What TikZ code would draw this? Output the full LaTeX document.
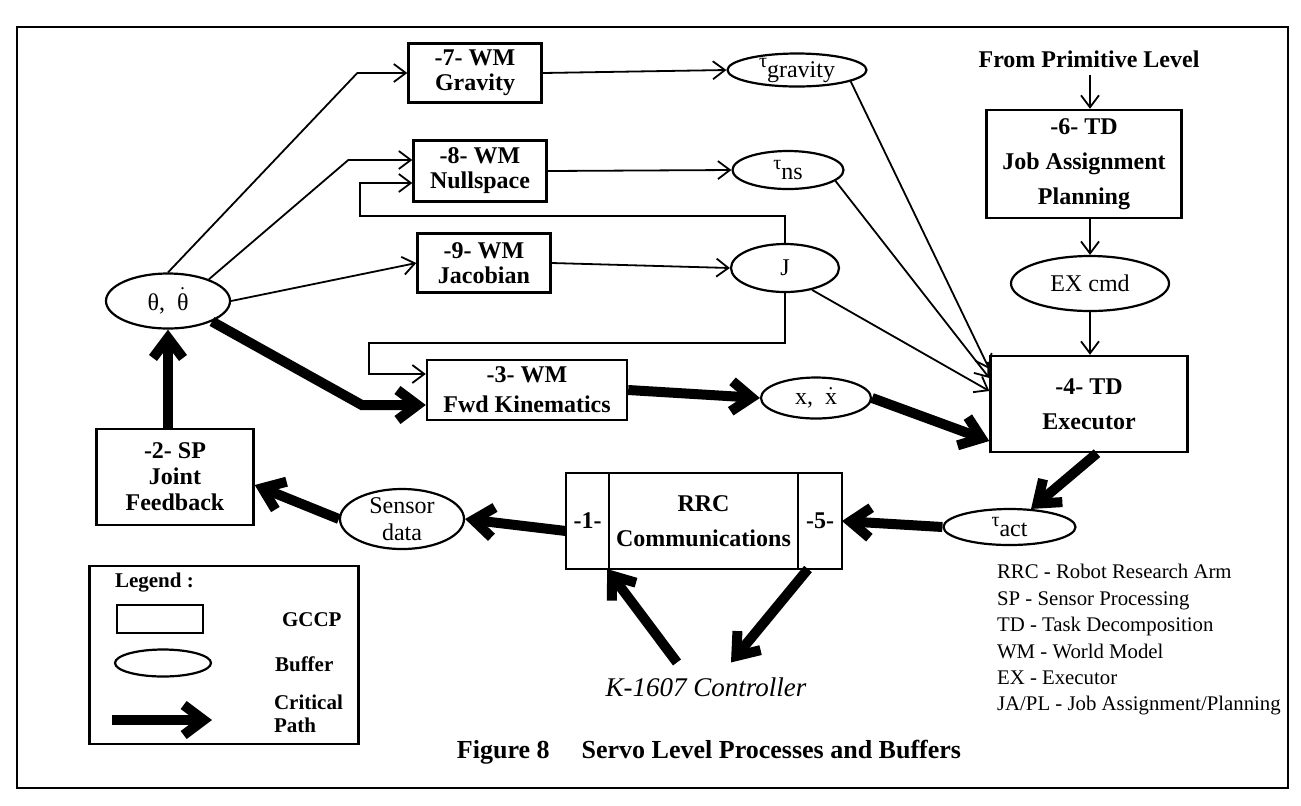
\documentclass[tikz,border=0pt]{standalone}
\usepackage{fontspec}
\setmainfont{Liberation Serif}
\usetikzlibrary{positioning, shapes.geometric, arrows.meta}
\newcommand{\tausub}[1]{\raisebox{2pt}{\fontsize{10}{10}\selectfont τ}\raisebox{-3pt}{#1}}

\begin{document}
\begin{tikzpicture}[x=0.5pt, y=-0.5pt,
    gccp/.style={draw, line width=1.2pt, align=center, inner sep=1pt,
        font={\fontsize{12}{#1}\selectfont\bfseries}},
    gccp/.default=12.5,
    buffer/.style={draw, ellipse, line width=1.1pt, inner sep=-4pt, align=center,
        font={\fontsize{12}{13.5}\selectfont}},
    legtext/.style={align=left, font={\fontsize{10.5}{11.5}\selectfont\bfseries}},
    flowarrow/.style={-{Straight Barb[length=6pt,width=9pt]}, line width=0.9pt},
    critarrow/.style={-{Straight Barb[length=10pt,width=15pt]}, line width=5pt}]
    \useasboundingbox (0,0) rectangle (1301,805);
    %cornice
        \draw[line width=1.2pt] (17,27) rectangle (1288,788);
    %riquadri GCCP
        \node[gccp, minimum width=66.5pt, minimum height=29.5pt] (g7) at (475,73) {-7- WM\\Gravity};
        \node[gccp, minimum width=66.5pt, minimum height=30.5pt] (g8) at (480,171) {-8- WM\\Nullspace};
        \node[gccp, minimum width=66.5pt, minimum height=29.5pt] (g9) at (484,263) {-9- WM\\Jacobian};
        \node[gccp=15, minimum width=100pt, minimum height=30pt] (g3) at (527,390) {-3- WM\\Fwd Kinematics};
        \node[gccp=13, minimum width=78.5pt, minimum height=48pt] (g2) at (175,477) {-2- SP\\Joint\\Feedback};
        \node[gccp=17.5, minimum width=97.5pt, minimum height=54pt] (g6) at (1084,164) {-6- TD\\Job Assignment\\Planning};
        \node[gccp=17.5, minimum width=98.5pt, minimum height=48pt] (g4) at (1089,404) {-4- TD\\Executor};
        \node[gccp=17.5, outer sep=0pt, minimum width=94.5pt, minimum height=48pt] (rrc) at (703.5,521) {RRC\\Communications};
        \node[gccp, outer sep=0pt, minimum width=21.5pt, minimum height=48pt, left=0pt of rrc] (c1) {-1-};
        \node[gccp, outer sep=0pt, minimum width=22pt, minimum height=48pt, right=0pt of rrc] (c5) {-5-};
    %buffer
        \node[buffer, minimum width=62pt, minimum height=27.5pt] (theta) at (168,301) {θ,\enspace$\dot{\mbox{θ}}$};
        \node[buffer, minimum width=69.5pt, minimum height=16.5pt] (tg) at (797,70) {\tausub{gravity}};
        \node[buffer, minimum width=55.5pt, minimum height=19pt] (tns) at (788,170) {\tausub{ns}};
        \node[buffer, minimum width=54pt, minimum height=24pt] (jac) at (785,268) {J};
        \node[buffer, minimum width=55pt, minimum height=20.5pt] (xd) at (816,398) {x,\enspace$\dot{\mbox{x}}$};
        \node[buffer, minimum width=79pt, minimum height=27.5pt] (excmd) at (1090,283.5) {EX cmd};
        \node[buffer, minimum width=66pt, minimum height=18pt] (tact) at (1009.5,527) {\tausub{act}};
        \node[buffer, minimum width=62pt, minimum height=30pt] (sens) at (402,519) {Sensor\\data};
    %testi
        \node[font={\fontsize{12}{14}\selectfont\bfseries}] (prim) at (1089,59) {From Primitive Level};
        \node[font={\fontsize{13.5}{16}\selectfont\itshape}] (ctrl) at (706,687) {K-1607 Controller};
        \node[anchor=west, align=left, font={\fontsize{10.4}{13.2}\selectfont}] (key) at (990,640)
            {RRC - Robot Research Arm\\SP - Sensor Processing\\TD - Task Decomposition\\WM - World Model\\EX - Executor\\JA/PL - Job Assignment/Planning};
        \node[font={\fontsize{13}{15}\selectfont\bfseries}] (cap) at (709,752) {Figure 8\hspace{16pt}Servo Level Processes and Buffers};
    %frecce sottili
        \draw[flowarrow] (theta.north) -- ([xshift=-25pt]g7.west) -- (g7.west);
        \draw[flowarrow] (theta.28) -- ([xshift=-32pt,yshift=5.5pt]g8.west) -- ([yshift=5.5pt]g8.west);
        \draw[flowarrow] (jac.north) -- ++(0,-27) -| ([xshift=-26pt,yshift=-6pt]g8.west) -- ([yshift=-6pt]g8.west);
        \draw[flowarrow] (theta.east) -- (g9.west);
        \draw[flowarrow] (jac.south) -- ++(0,50) -| ([xshift=-28.5pt,yshift=8pt]g3.west) -- ([yshift=8pt]g3.west);
        \draw[flowarrow] (g7.east) -- (tg.west);
        \draw[flowarrow] (g8.east) -- (tns.west);
        \draw[flowarrow] (g9.east) -- (jac.west);
        \draw[flowarrow] (tg.-12) -- ([yshift=17.5pt]g4.west);
        \draw[flowarrow] (tns.-13) -- ([yshift=13pt]g4.west);
        \draw[flowarrow] (jac.-39) -- ([yshift=6.5pt]g4.west);
        \draw[flowarrow] (prim.south -| excmd.north) -- (excmd.north |- g6.north);
        \draw[flowarrow] (excmd.north |- g6.south) -- (excmd.north);
        \draw[flowarrow] (excmd.south) -- (excmd.south |- g4.north);
    %percorso critico
        \draw[critarrow] (theta.south |- g2.north) -- (theta.south);
        \draw[critarrow] (theta.-25) -- ([xshift=-32pt,yshift=-7.5pt]g3.west) -- ([yshift=-7.5pt]g3.west);
        \draw[critarrow] (g3.east) -- (xd.west);
        \draw[critarrow] (xd.east) -- ([yshift=-18.5pt]g4.west);
        \draw[critarrow] ([xshift=4pt]g4.south) -- (tact.40);
        \draw[critarrow] (tact.west) -- (c5.east);
        \draw[critarrow] ([yshift=-5pt]c1.west) -- (sens.east);
        \draw[critarrow] (sens.west) -- ([yshift=-4pt]g2.east);
        \draw[critarrow] ([xshift=5pt]c5.south west) -- ([xshift=12.5pt,yshift=4pt]ctrl.north);
        \draw[critarrow] ([xshift=-14.5pt,yshift=4pt]ctrl.north) -- ([xshift=-1pt]c1.south east);
    %legenda
        \node[draw, line width=1.2pt, minimum width=134.5pt, minimum height=89pt] (leg) at (224,655) {};
        \node[legtext, anchor=west] (legtitle) at (108,583) {Legend :};
        \node[draw, line width=1.1pt, minimum width=43pt, minimum height=14pt] (legbox) at (160,619) {};
        \node[legtext, anchor=west] (legg) at (275,619.5) {GCCP};
        \node[draw, ellipse, line width=1.1pt, minimum width=48pt, minimum height=13.5pt] (legell) at (163,663) {};
        \node[legtext, anchor=west] (legb) at (268,664) {Buffer};
        \coordinate (legfrom) at (112,720);
        \coordinate (legto) at (212,720);
        \draw[critarrow] (legfrom) -- (legto);
        \node[legtext, anchor=west] (legc) at (267,713.5) {Critical\\Path};
\end{tikzpicture}
\end{document}
